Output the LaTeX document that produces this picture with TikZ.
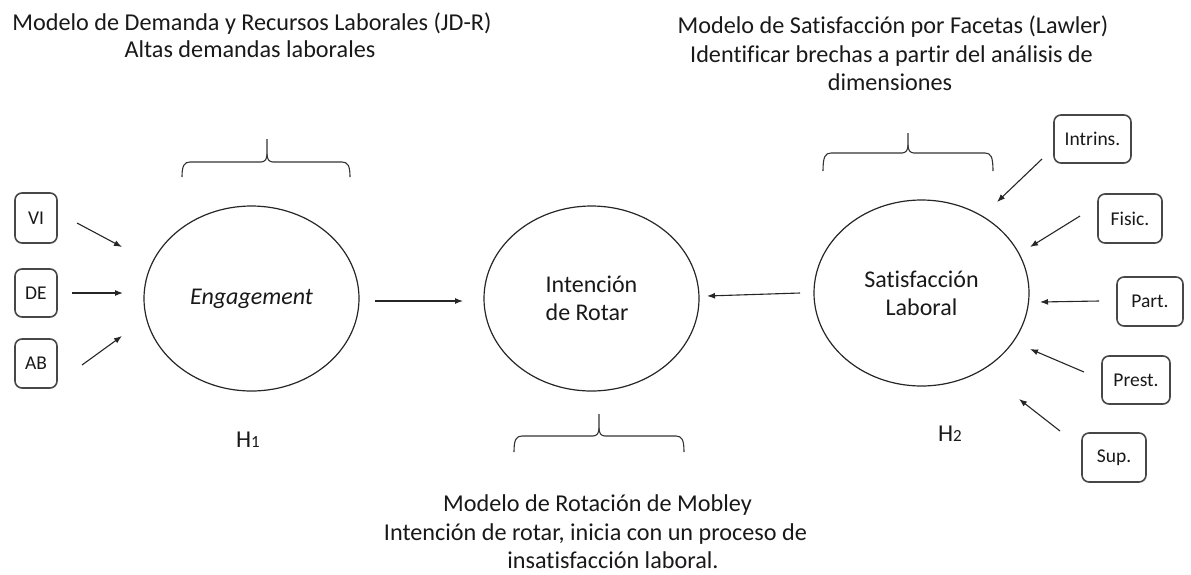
\documentclass[tikz,border=0pt]{standalone}
\usepackage{fontspec}
\setmainfont{Carlito}[Ligatures=CommonOff]
\usetikzlibrary{shapes.geometric,arrows.meta}
\newcommand{\drawbrace}[6]{% #1 x1, #2 x2, #3 xc, #4 ytip, #5 yh, #6 ypeak
  \draw[bracestyle] (#1,#4) .. controls (#1,#5+4) and (#1+2,#5) .. (#1+8,#5)
    -- (#3-6,#5) .. controls (#3-2,#5) and (#3,#5-3) .. (#3,#5-8) -- (#3,#6);
  \draw[bracestyle] (#3,#5-8) .. controls (#3,#5-3) and (#3+2,#5) .. (#3+6,#5)
    -- (#2-8,#5) .. controls (#2-2,#5) and (#2,#5+4) .. (#2,#4);
}
\begin{document}
\begin{tikzpicture}[x=1pt,y=-1pt,
  oval/.style={ellipse,draw=black!85,line width=1.2pt,inner sep=0pt,
    minimum width=215pt,minimum height=185pt,font=\fontsize{24}{28}\selectfont,text=black!90},
  facet/.style={draw=black!72,line width=1.6pt,rounded corners=7pt,inner sep=0pt,
    font=\fontsize{19.5}{22}\selectfont,text=black!90},
  arr/.style={-{Latex[length=8pt,width=6pt]},line width=1.1pt,draw=black!85},
  bracestyle/.style={line width=1.1pt,draw=black!80},
  lbl/.style={font=\fontsize{24.2}{28}\selectfont,anchor=base,inner sep=0pt,text=black!90}]
\useasboundingbox (0,0) rectangle (1191,574);

% top texts
\node[lbl] (jdr1) at (252,30.7) {Modelo de Demanda y Recursos Laborales (JD-R)};
\node[lbl] (jdr2) at (250,57.3) {Altas demandas laborales};
\node[lbl] (law1) at (893,33) {Modelo de Satisfacción por Facetas (Lawler)};
\node[lbl] (law2) at (891.5,62) {Identificar brechas a partir del análisis de};
\node[lbl] (law3) at (890,90) {dimensiones};
% bottom texts
\node[lbl] (mob1) at (597.5,511.7) {Modelo de Rotación de Mobley};
\node[lbl] (mob2) at (595.5,540) {Intención de rotar, inicia con un proceso de};
\node[lbl] (mob3) at (613,568) {insatisfacción laboral.};

% braces
\drawbrace{182}{350}{267}{177}{162}{139}
\drawbrace{823}{993}{908}{171}{153}{133}
\drawbrace{514}{684}{599}{452}{436}{414}

% main constructs
\node[oval] (eng) at (251.5,298.5) {\itshape Engagement};
\node[oval,align=left] (rot) at (591.5,298.5) {Intención\\de Rotar};
\node[oval,minimum height=186pt,align=center] (sat) at (921.5,293) {Satisfacción\\Laboral};

% hypotheses
\node[lbl] (h1) at (248,447) {H{\fontsize{17}{20}\selectfont 1}};
\node[lbl] (h2) at (950,441) {H{\fontsize{17}{20}\selectfont 2}};

% left facet boxes
\node[facet,minimum width=42pt,minimum height=50pt] (vi) at (36,218) {VI};
\node[facet,minimum width=42pt,minimum height=48pt] (de) at (36,293) {DE};
\node[facet,minimum width=42pt,minimum height=49pt] (ab) at (36,363.5) {AB};

% right facet boxes
\node[facet,minimum width=77pt,minimum height=48pt] (intr) at (1092.5,139) {Intrins.};
\node[facet,minimum width=64pt,minimum height=49pt] (fis) at (1130,218.5) {Fisic.};
\node[facet,minimum width=66pt,minimum height=49pt] (part) at (1150,301.5) {Part.};
\node[facet,minimum width=68pt,minimum height=48pt] (prest) at (1136,380) {Prest.};
\node[facet,minimum width=64pt,minimum height=49pt] (sup) at (1114,457.5) {Sup.};

% arrow end points
\coordinate (vi-s) at (77,223);    \coordinate (vi-e) at (122,247);
\coordinate (de-s) at (72,293);    \coordinate (de-e) at (123,293);
\coordinate (ab-s) at (82,365);    \coordinate (ab-e) at (122,336);
\coordinate (eng-s) at (375,301);  \coordinate (rot-w) at (463,301);
\coordinate (sat-s) at (800,293);  \coordinate (rot-e) at (707,296);
\coordinate (intr-s) at (1042,159);  \coordinate (intr-e) at (997,202);
\coordinate (fis-s) at (1080,216);   \coordinate (fis-e) at (1030,247);
\coordinate (part-s) at (1099,301);  \coordinate (part-e) at (1040,302);
\coordinate (prest-s) at (1084,372); \coordinate (prest-e) at (1030,349);
\coordinate (sup-s) at (1060,431);   \coordinate (sup-e) at (1019,399);

\draw[arr] (vi-s) -- (vi-e);
\draw[arr] (de-s) -- (de-e);
\draw[arr] (ab-s) -- (ab-e);
\draw[arr] (eng-s) -- (rot-w);
\draw[arr] (sat-s) -- (rot-e);
\draw[arr] (intr-s) -- (intr-e);
\draw[arr] (fis-s) -- (fis-e);
\draw[arr] (part-s) -- (part-e);
\draw[arr] (prest-s) -- (prest-e);
\draw[arr] (sup-s) -- (sup-e);
\end{tikzpicture}
\end{document}
